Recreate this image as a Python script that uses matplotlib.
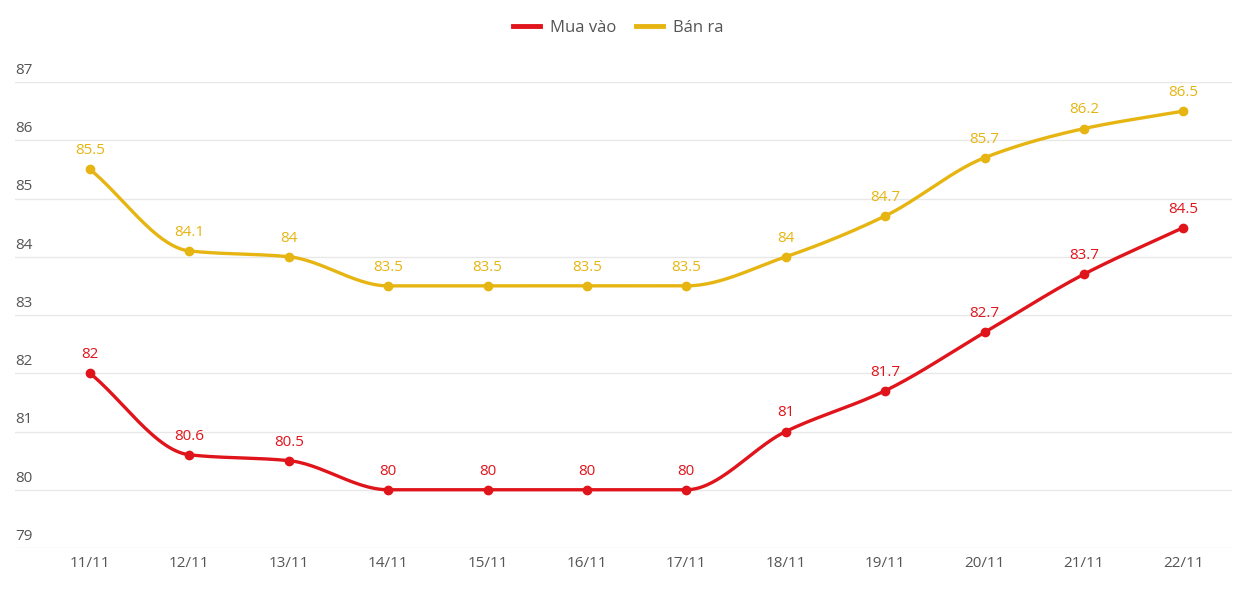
import numpy as np
import matplotlib.pyplot as plt
from matplotlib.lines import Line2D
import matplotlib.transforms as mtransforms

plt.rcParams['font.family'] = ['Open Sans', 'DejaVu Sans']

# data
days = ['11/11', '12/11', '13/11', '14/11', '15/11', '16/11',
        '17/11', '18/11', '19/11', '20/11', '21/11', '22/11']
mua_vao = [82, 80.6, 80.5, 80, 80, 80, 80, 81, 81.7, 82.7, 83.7, 84.5]
ban_ra = [85.5, 84.1, 84, 83.5, 83.5, 83.5, 83.5, 84, 84.7, 85.7, 86.2, 86.5]
y_ticks = [79, 80, 81, 82, 83, 84, 85, 86, 87]

red = '#E0141B'
gold = '#E6B512'
grey_text = '#555555'


def monotone_curve(x, y, n=30):
    # monotone cubic (Fritsch-Carlson) just for drawing the smooth line
    x = np.asarray(x, float)
    y = np.asarray(y, float)
    h = np.diff(x)
    d = np.diff(y) / h
    m = np.zeros_like(y)
    m[0], m[-1] = d[0], d[-1]
    for i in range(1, len(y) - 1):
        if d[i - 1] * d[i] <= 0:
            m[i] = 0
        else:
            w1 = 2 * h[i] + h[i - 1]
            w2 = h[i] + 2 * h[i - 1]
            m[i] = (w1 + w2) / (w1 / d[i - 1] + w2 / d[i])
    xs, ys = [], []
    for i in range(len(x) - 1):
        t = np.linspace(0, 1, n)
        h00 = 2 * t**3 - 3 * t**2 + 1
        h10 = t**3 - 2 * t**2 + t
        h01 = -2 * t**3 + 3 * t**2
        h11 = t**3 - t**2
        xs.append(x[i] + t * h[i])
        ys.append(h00 * y[i] + h10 * h[i] * m[i] + h01 * y[i + 1] + h11 * h[i] * m[i + 1])
    return np.concatenate(xs), np.concatenate(ys)


fig = plt.figure(figsize=(12.37, 6.16), dpi=100)
ax = fig.add_axes([15 / 1237, 68 / 616, (1232 - 15) / 1237, 466 / 616])

x = np.arange(len(days))
for vals, col, z in [(ban_ra, gold, 3), (mua_vao, red, 4)]:
    sx, sy = monotone_curve(x, vals)
    ax.plot(sx, sy, color=col, lw=2.4, zorder=z, solid_capstyle='round')
    ax.plot(x, vals, 'o', color=col, ms=6, zorder=z + 1)
    for xi, v in zip(x, vals):
        ax.annotate(f'{v:g}', (xi, v), xytext=(0, 8), textcoords='offset points',
                    ha='center', va='bottom', color=col, fontsize=11)

ax.set_ylim(79, 87)
ax.set_xlim(-0.755, 11.49)
ax.set_yticks(y_ticks)
ax.set_yticklabels([])
ax.grid(axis='y', color='#e8e8e8', lw=1)
ax.tick_params(length=0)
for s in ax.spines.values():
    s.set_visible(False)

trans = mtransforms.blended_transform_factory(ax.transAxes, ax.transData)
for t in y_ticks:
    ax.annotate(str(t), (0, t), xycoords=trans, xytext=(0, 3), textcoords='offset points',
                ha='left', va='bottom', color=grey_text, fontsize=11)

ax.set_xticks(x)
ax.set_xticklabels(days, color=grey_text, fontsize=11)
ax.tick_params(axis='x', pad=6)

handles = [Line2D([], [], color=red, lw=3.5), Line2D([], [], color=gold, lw=3.5)]
fig.legend(handles, ['Mua vào', 'Bán ra'], loc='center', bbox_to_anchor=(0.5, 1 - 28 / 616),
           ncol=2, frameon=False, fontsize=12, labelcolor=grey_text,
           handlelength=1.6, handletextpad=0.6, columnspacing=1.2)

fig.savefig('out.png', dpi=100)
